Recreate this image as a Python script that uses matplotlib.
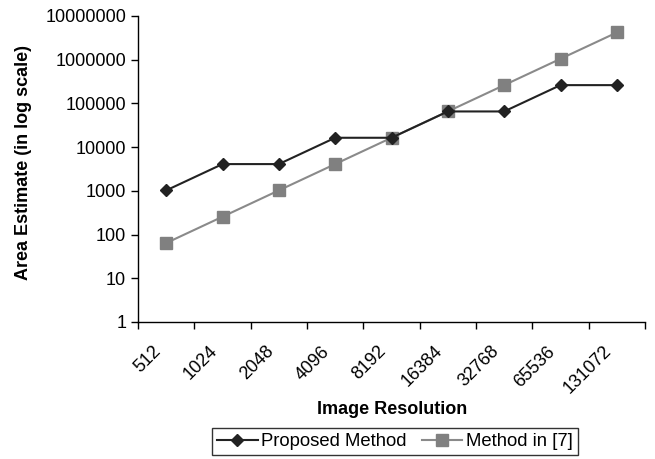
import numpy as np
import matplotlib
matplotlib.use("Agg")
from matplotlib import pyplot as plt
from matplotlib.ticker import FixedLocator, NullFormatter
from matplotlib.transforms import ScaledTranslation

resolutions = ["512", "1024", "2048", "4096", "8192", "16384", "32768", "65536", "131072"]
proposed = [1024, 4096, 4096, 16384, 16384, 65536, 65536, 262144, 262144]
method7 = [64, 256, 1024, 4096, 16384, 65536, 262144, 1048576, 4194304]
yticks = [1, 10, 100, 1000, 10000, 100000, 1000000, 10000000]

plt.rcParams['font.family'] = ['Liberation Sans', 'DejaVu Sans']

fig = plt.figure(figsize=(6.55, 4.59), dpi=100)
ax = fig.add_axes([138/655, 137/459, 507/655, 306/459])

x = np.arange(len(resolutions))
ax.plot(x, method7, color='#8a8a8a', lw=1.5, marker='s', ms=8,
        mfc='#808080', mec='#808080', label='Method in [7]', zorder=2)
ax.plot(x, proposed, color='#222222', lw=1.5, marker='D', ms=6.5,
        mfc='#222222', mec='#222222', label='Proposed Method', zorder=3)

ax.set_yscale('log')
ax.set_ylim(1, 10000000)
ax.set_yticks(yticks)
ax.set_yticklabels([str(v) for v in yticks])
ax.yaxis.set_minor_locator(FixedLocator([]))
ax.set_xlim(-0.5, len(resolutions) - 0.5)

ax.set_xticks(x)
ax.set_xticklabels(resolutions, rotation=45, ha='right', rotation_mode='anchor')
ax.xaxis.set_minor_locator(FixedLocator(np.arange(-0.5, len(resolutions), 1.0)))
ax.xaxis.set_minor_formatter(NullFormatter())
ax.tick_params(axis='x', which='major', length=0, pad=15, labelsize=13)
ax.tick_params(axis='x', which='minor', length=5, width=1)
ax.tick_params(axis='y', which='major', length=5, width=1, labelsize=13)
shift = ScaledTranslation(-14/100, 0, fig.dpi_scale_trans)
for lab in ax.get_xticklabels():
    lab.set_transform(lab.get_transform() + shift)

for s in ['top', 'right']:
    ax.spines[s].set_visible(False)
for s in ['left', 'bottom']:
    ax.spines[s].set_linewidth(1)

ax.set_ylabel("Area Estimate (in log scale)", fontsize=13, fontweight='bold')
ax.yaxis.set_label_coords((32 - 138) / 507, (459 - 162 - 137) / 306)
fig.text(392/655, 1 - 410/459, "Image Resolution", fontsize=13, fontweight='bold',
         ha='center', va='center')

h, l = ax.get_legend_handles_labels()
leg = fig.legend(h[::-1], l[::-1], loc='center', bbox_to_anchor=(395/655, 17.5/459),
                 ncol=2, frameon=True, fancybox=False, fontsize=13.3, handlelength=2.2,
                 columnspacing=0.8, handletextpad=0.2, borderpad=0.25, borderaxespad=0)
leg.get_frame().set_edgecolor('black')
leg.get_frame().set_linewidth(1)

fig.savefig("out.png", dpi=100)
